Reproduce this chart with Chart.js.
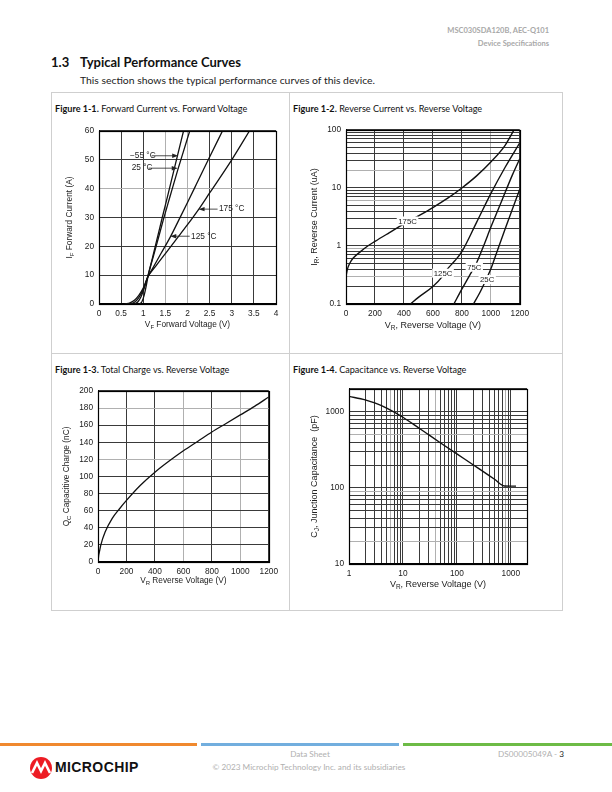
<!DOCTYPE html>
<html>
<head>
<meta charset="utf-8">
<script src="https://cdn.jsdelivr.net/npm/chart.js@4.4.1/dist/chart.umd.min.js"></script>
<style>
  body { margin: 0; background: #fff; }
  #page { position: relative; width: 612px; height: 792px; overflow: hidden; font-family: Lato, "Open Sans", sans-serif; color: #222; }
  #page div, #page canvas { position: absolute; }
  .hdr { right: 63px; font-size: 7.5px; line-height: 9px; color: #a8a8a8; font-weight: bold; text-align: right; }
  .sec { top: 54px; font-size: 13px; line-height: 16px; font-weight: bold; color: #111; }
  .intro { left: 80px; top: 74px; font-size: 10.4px; line-height: 12px; white-space: nowrap; }
  .fig { font-size: 9.1px; line-height: 10px; color: #111; white-space: nowrap; }
  .rule { background: #cfcfcf; }
  .foot { font-size: 8.2px; line-height: 9px; color: #b0b0b0; white-space: nowrap; }
</style>
</head>
<body>
<div id="page">
  <div class="hdr" style="top:26px">MSC030SDA120B, AEC-Q101</div>
  <div class="hdr" style="top:39px">Device Specifications</div>
  <div class="sec" style="left:51px">1.3</div>
  <div class="sec" style="left:80px">Typical Performance Curves</div>
  <div class="intro">This section shows the typical performance curves of this device.</div>

  <div class="rule" style="left:51px;top:92px;width:512px;height:1px"></div>
  <div class="rule" style="left:51px;top:610px;width:512px;height:1px"></div>
  <div class="rule" style="left:51px;top:92px;width:1px;height:519px"></div>
  <div class="rule" style="left:562px;top:92px;width:1px;height:519px"></div>
  <div class="rule" style="left:289px;top:92px;width:1px;height:519px"></div>
  <div class="rule" style="left:51px;top:353px;width:512px;height:1px"></div>

  <div class="fig" style="left:55px;top:104px"><b>Figure 1-1.</b> Forward Current vs. Forward Voltage</div>
  <div class="fig" style="left:293px;top:104px"><b>Figure 1-2.</b> Reverse Current vs. Reverse Voltage</div>
  <div class="fig" style="left:55px;top:365px"><b>Figure 1-3.</b> Total Charge vs. Reverse Voltage</div>
  <div class="fig" style="left:293px;top:365px"><b>Figure 1-4.</b> Capacitance vs. Reverse Voltage</div>

  <canvas id="fig1" width="228" height="213" style="left:58px;top:121px"></canvas>
  <canvas id="fig2" width="230" height="214" style="left:304px;top:120px"></canvas>
  <canvas id="fig3" width="227" height="209" style="left:56px;top:381px"></canvas>
  <canvas id="fig4" width="234" height="215" style="left:305px;top:379px"></canvas>

  <div style="left:0;top:743px;width:197px;height:3px;background:#f0892e"></div>
  <div style="left:201px;top:743px;width:198px;height:3px;background:#72aede"></div>
  <div style="left:403px;top:743px;width:209px;height:3px;background:#6dbb46"></div>

  <svg style="position:absolute;left:29px;top:756px" width="26" height="24" viewBox="0 0 26 24">
    <circle cx="12" cy="12" r="11" fill="#ed1c24"/>
    <path d="M3 17 L8 7 L12 15 L16 7 L21 17" stroke="#fff" stroke-width="2.6" fill="none" stroke-linejoin="miter"/>
  </svg>
  <div style="left:55px;top:759px;font-family:'Liberation Sans',Arial,sans-serif;font-weight:bold;font-size:14px;line-height:17px;color:#111;letter-spacing:0.4px">MICROCHIP</div>

  <div class="foot" style="left:210px;width:200px;top:750px;text-align:center">Data Sheet</div>
  <div class="foot" style="left:190px;width:238px;top:763px;text-align:center">© 2023 Microchip Technology Inc. and its subsidiaries</div>
  <div class="foot" style="right:48px;top:750px">DS00005049A - <span style="color:#222">3</span></div>
</div>

<script>
// ---- Figure 1-1: forward current (A) vs forward voltage (V) ----
const vfN55 = [0.92, 0.97, 1.02, 1.07, 1.12, 1.2, 1.3, 1.43, 1.6, 1.75, 1.91];
const ifN55 = [0, 0.8, 3, 6.5, 10.5, 15.5, 21.8, 30, 40.5, 50, 60];
const vf25 = [0.8, 0.88, 0.95, 1.0, 1.05, 1.1, 1.2, 1.3, 1.45, 1.6, 1.78, 1.9, 2.05];
const if25 = [0, 0.8, 2.5, 4.5, 6.8, 9.5, 15, 20.5, 29, 37, 46.5, 52.5, 60];
const vf125 = [0.68, 0.8, 0.9, 1.0, 1.1, 1.2, 1.4, 1.61, 1.8, 2.0, 2.2, 2.5, 2.79];
const if125 = [0, 0.6, 2.2, 5, 9.3, 12, 17.5, 23.2, 29, 35.2, 41.5, 51, 60];
const vf175 = [0.58, 0.7, 0.8, 0.9, 1.0, 1.1, 1.3, 1.5, 1.75, 2.0, 2.26, 2.5, 3.0, 3.4];
const if175 = [0, 0.4, 1.3, 3.0, 5.5, 9.3, 13.5, 17.5, 22.5, 27.5, 33, 38.5, 50, 60];
const fig1XTicks = [0, 0.5, 1, 1.5, 2, 2.5, 3, 3.5, 4];
const fig1YTicks = [0, 10, 20, 30, 40, 50, 60];

// ---- Figure 1-2: reverse current (uA) vs reverse voltage (V) ----
const vr175 = [0, 10, 25, 50, 100, 150, 200, 300, 400, 500, 600, 700, 800, 900, 1000, 1100, 1160];
const ir175 = [0.3, 0.4, 0.5, 0.62, 0.8, 1.0, 1.2, 1.7, 2.4, 3.3, 4.6, 6.6, 10, 16, 28, 55, 100];
const vr125 = [445, 500, 600, 666, 700, 750, 800, 900, 1000, 1100, 1200];
const ir125 = [0.1, 0.13, 0.2, 0.3, 0.4, 0.55, 0.8, 2.5, 8, 23, 60];
const vr75 = [745, 800, 850, 900, 950, 1000, 1050, 1100, 1150, 1200];
const ir75 = [0.1, 0.18, 0.3, 0.5, 1.0, 2.1, 4.2, 8.5, 17, 32];
const vr25 = [880, 920, 960, 1000, 1050, 1100, 1150, 1200];
const ir25 = [0.1, 0.15, 0.24, 0.4, 0.9, 2, 4.4, 9.5];
const fig2XTicks = [0, 200, 400, 600, 800, 1000, 1200];
const fig2YDecades = [0.1, 1, 10, 100];

// ---- Figure 1-3: capacitive charge (nC) vs reverse voltage (V) ----
const vrQ = [0, 5, 10, 20, 50, 100, 150, 200, 300, 400, 500, 600, 700, 800, 900, 1000, 1100, 1200];
const qc = [0, 8, 12, 20, 35, 51, 62, 72, 90, 105, 118, 130, 141, 152, 162, 172, 182, 193];
const fig3XTicks = [0, 200, 400, 600, 800, 1000, 1200];
const fig3YTicks = [0, 20, 40, 60, 80, 100, 120, 140, 160, 180, 200];

// ---- Figure 1-4: junction capacitance (pF) vs reverse voltage (V) ----
const vrC = [1, 2, 3, 5, 10, 20, 30, 50, 100, 200, 300, 500, 760, 1000, 1250];
const cj = [1600, 1440, 1310, 1120, 850, 610, 500, 390, 280, 202, 166, 130, 106, 105.5, 105.5];
const fig4XDecades = [1, 10, 100, 1000];
const fig4YDecades = [10, 100, 1000];

// curve labels
const fig1Notes = [
  { text: '\u221255 \u00b0C', x: 0.70, y: 51.4, from: 1.19, to: 1.79 },
  { text: '25 \u00b0C', x: 0.74, y: 47.1, from: 1.12, to: 1.78 },
  { text: '175 \u00b0C', x: 2.71, y: 32.9, from: 2.68, to: 2.25 },
  { text: '125 \u00b0C', x: 2.08, y: 23.5, from: 2.05, to: 1.61 }
];
const fig2Notes = [
  { text: '175C', x: 425, y: 2.7 },
  { text: '125C', x: 670, y: 0.34 },
  { text: '75C', x: 886, y: 0.43 },
  { text: '25C', x: 975, y: 0.264 }
];

const ARIAL = "'Liberation Sans', Arial, sans-serif";
const NARROW = "'Liberation Sans Narrow', 'Liberation Sans', Arial, sans-serif";

function pts(xs, ys) {
  return xs.map((x, i) => ({ x: x, y: ys[i] }));
}

// grid values 1..9 per decade for log axes
function logGrid(decades, max) {
  const out = [];
  decades.forEach(d => {
    for (let k = 1; k <= 9; k++) {
      const v = +(d * k).toPrecision(6);
      if (v <= max) out.push(v);
    }
  });
  if (out[out.length - 1] !== max) out.push(max);
  return out;
}

function curve(data, width) {
  return {
    data: data,
    borderColor: '#111',
    borderWidth: width || 1.3,
    pointRadius: 0,
    fill: false,
    cubicInterpolationMode: 'monotone'
  };
}

// text with subscripts: parts = [[text, isSub], ...]
function richText(ctx, parts, x, y, size, family) {
  let w = 0;
  parts.forEach(p => {
    ctx.font = (p[1] ? size * 0.72 : size) + 'px ' + family;
    w += ctx.measureText(p[0]).width;
  });
  let cx = x - w / 2;
  ctx.textAlign = 'left';
  ctx.textBaseline = 'middle';
  parts.forEach(p => {
    ctx.font = (p[1] ? size * 0.72 : size) + 'px ' + family;
    ctx.fillText(p[0], cx, p[1] ? y + size * 0.3 : y);
    cx += ctx.measureText(p[0]).width;
  });
}

function extras(o) {
  return {
    id: 'extras',
    afterDatasetsDraw(chart) {
      const ctx = chart.ctx, a = chart.chartArea, xs = chart.scales.x, ys = chart.scales.y;
      ctx.save();
      ctx.strokeStyle = '#000';
      ctx.lineWidth = o.frame;
      ctx.strokeRect(Math.round(a.left) + 0.5, Math.round(a.top) + 0.5,
        Math.round(a.right - a.left), Math.round(a.bottom - a.top));

      ctx.fillStyle = '#222';
      // arrows with labels (fig 1-1)
      (o.arrows || []).forEach(n => {
        const py = ys.getPixelForValue(n.y);
        const x0 = xs.getPixelForValue(n.from), x1 = xs.getPixelForValue(n.to);
        const dir = x1 > x0 ? 1 : -1;
        ctx.strokeStyle = '#222';
        ctx.lineWidth = 0.8;
        ctx.beginPath();
        ctx.moveTo(x0, py);
        ctx.lineTo(x1 - dir * 4, py);
        ctx.stroke();
        ctx.beginPath();
        ctx.moveTo(x1, py);
        ctx.lineTo(x1 - dir * 6, py - 2.2);
        ctx.lineTo(x1 - dir * 6, py + 2.2);
        ctx.closePath();
        ctx.fill();
        ctx.font = '8.3px ' + NARROW;
        ctx.textAlign = 'left';
        ctx.textBaseline = 'middle';
        ctx.fillText(n.text, xs.getPixelForValue(n.x), py);
      });
      // boxed labels (fig 1-2)
      (o.boxes || []).forEach(n => {
        const px = xs.getPixelForValue(n.x), py = ys.getPixelForValue(n.y);
        ctx.font = '7.8px ' + ARIAL;
        const w = ctx.measureText(n.text).width + 3;
        ctx.fillStyle = '#fff';
        ctx.fillRect(px - w / 2, py - 4.5, w, 9);
        ctx.fillStyle = '#222';
        ctx.textAlign = 'center';
        ctx.textBaseline = 'middle';
        ctx.fillText(n.text, px, py + 0.5);
      });

      // axis titles
      ctx.fillStyle = '#222';
      richText(ctx, o.xTitle, (a.left + a.right) / 2, a.bottom + o.xDy, o.titleSize, o.titleFont);
      ctx.translate(a.left - o.yDx, (a.top + a.bottom) / 2);
      ctx.rotate(-Math.PI / 2);
      richText(ctx, o.yTitle, 0, 0, o.titleSize, o.titleFont);
      ctx.restore();
    }
  };
}

function makeChart(id, datasets, sx, sy, o) {
  const ctx = document.getElementById(id).getContext('2d');
  const gridColor = list => c => (c.tick && list.includes(c.tick.value)) ? '#b0b0b0' : '#3a3a3a';
  const axis = (s, fit) => ({
    type: s.type,
    min: s.min,
    max: s.max,
    afterFit: fit,
    afterBuildTicks: scale => { scale.ticks = s.grid.map(v => ({ value: v })); },
    grid: { color: gridColor(s.gray || []), lineWidth: 1, drawTicks: false },
    border: { color: '#000', width: 1 },
    ticks: {
      autoSkip: false,
      maxRotation: 0,
      padding: s.pad,
      color: '#1a1a1a',
      font: { family: ARIAL, size: s.font },
      callback: v => (s.labels.includes(v) ? String(v) : '')
    }
  });
  return new Chart(ctx, {
    type: 'line',
    data: { datasets: datasets },
    options: {
      responsive: false,
      animation: false,
      events: [],
      layout: { padding: { top: 8, right: o.padRight, left: 0, bottom: 0 } },
      plugins: { legend: { display: false }, tooltip: { enabled: false } },
      scales: {
        x: axis(sx, scale => { scale.height = o.xH; }),
        y: axis(sy, scale => { scale.width = o.yW; })
      }
    },
    plugins: [extras(o)]
  });
}

// Figure 1-1
makeChart('fig1',
  [curve(pts(vfN55, ifN55)), curve(pts(vf25, if25)), curve(pts(vf125, if125)), curve(pts(vf175, if175))],
  { type: 'linear', min: 0, max: 4, grid: fig1XTicks, labels: fig1XTicks, gray: [1.5, 2], pad: 5, font: 8.3 },
  { type: 'linear', min: 0, max: 60, grid: fig1YTicks, labels: fig1YTicks, gray: [40], pad: 5, font: 8.3 },
  { yW: 41, xH: 30, padRight: 10, frame: 1.2, arrows: fig1Notes,
    xTitle: [['V', 0], ['F', 1], [' Forward Voltage (V)', 0]],
    yTitle: [['I', 0], ['F', 1], [' Forward Current (A)', 0]],
    xDy: 21, yDx: 29, titleSize: 8.3, titleFont: NARROW });

// Figure 1-2
makeChart('fig2',
  [curve(pts(vr175, ir175), 1.4), curve(pts(vr125, ir125), 1.4), curve(pts(vr75, ir75), 1.4), curve(pts(vr25, ir25), 1.4)],
  { type: 'linear', min: 0, max: 1200, grid: fig2XTicks, labels: fig2XTicks, gray: [1000], pad: 5, font: 8.3 },
  { type: 'logarithmic', min: 0.1, max: 100, grid: logGrid(fig2YDecades, 100), labels: fig2YDecades, gray: [0.3, 0.9, 6, 20], pad: 5, font: 8.3 },
  { yW: 42, xH: 30, padRight: 12, frame: 1.2, boxes: fig2Notes,
    xTitle: [['V', 0], ['R', 1], [', Reverse Voltage (V)', 0]],
    yTitle: [['I', 0], ['R', 1], [', Reverse Current (uA)', 0]],
    xDy: 22, yDx: 31, titleSize: 9, titleFont: ARIAL });

// Figure 1-3
makeChart('fig3',
  [curve(pts(vrQ, qc), 1.3)],
  { type: 'linear', min: 0, max: 1200, grid: fig3XTicks, labels: fig3XTicks, gray: [600, 1000], pad: 5, font: 8.3 },
  { type: 'linear', min: 0, max: 200, grid: fig3YTicks, labels: fig3YTicks, gray: [120, 180], pad: 5, font: 8.3 },
  { yW: 42, xH: 28, padRight: 12, frame: 1.2,
    xTitle: [['V', 0], ['R', 1], [' Reverse Voltage (V)', 0]],
    yTitle: [['Q', 0], ['C', 1], [' Capacitive Charge (nC)', 0]],
    xDy: 19, yDx: 31, titleSize: 8.3, titleFont: NARROW });

// Figure 1-4
makeChart('fig4',
  [curve(pts(vrC, cj), 1.4)],
  { type: 'logarithmic', min: 1, max: 2000, grid: logGrid(fig4XDecades, 2000), labels: fig4XDecades, gray: [6, 40, 800], pad: 5, font: 8.3 },
  { type: 'logarithmic', min: 10, max: 2000, grid: logGrid(fig4YDecades, 2000), labels: fig4YDecades, gray: [20, 90, 500], pad: 5, font: 8.3 },
  { yW: 44, xH: 30, padRight: 12, frame: 1.2,
    xTitle: [['V', 0], ['R', 1], [', Reverse Voltage (V)', 0]],
    yTitle: [['C', 0], ['J', 1], [', Junction Capacitance  (pF)', 0]],
    xDy: 21, yDx: 34, titleSize: 9, titleFont: ARIAL });
</script>
</body>
</html>
